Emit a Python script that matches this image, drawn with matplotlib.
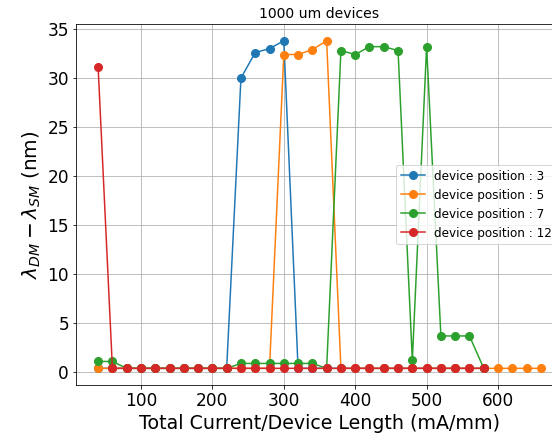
import numpy as np
import matplotlib
matplotlib.use("Agg")
from matplotlib import pyplot as plt

# current density (mA/mm)
x_long = [40, 60, 80, 100, 120, 140, 160, 180, 200, 220, 240, 260, 280, 300, 320, 340,
          360, 380, 400, 420, 440, 460, 480, 500, 520, 540, 560, 580, 600, 620, 640, 660]
x_short = x_long[:28]

# wavelength split (nm) per device position
pos3 = [0.4, 0.4, 0.4, 0.4, 0.4, 0.4, 0.4, 0.4, 0.4, 0.4, 30.0, 32.6, 33.0, 33.8,
        0.4, 0.4, 0.4, 0.4, 0.4, 0.4, 0.4, 0.4, 0.4, 0.4, 0.4, 0.4, 0.4, 0.4]
pos5 = [0.4, 0.4, 0.4, 0.4, 0.4, 0.4, 0.4, 0.4, 0.4, 0.4, 0.4, 0.4, 0.4, 32.4, 32.4, 32.9,
        33.8, 0.4, 0.4, 0.4, 0.4, 0.4, 0.4, 0.4, 0.4, 0.4, 0.4, 0.4, 0.4, 0.4, 0.4, 0.4]
pos7 = [1.1, 1.1, 0.4, 0.4, 0.4, 0.4, 0.4, 0.4, 0.4, 0.4, 0.9, 0.9, 0.9, 0.9,
        0.9, 0.9, 0.4, 32.8, 32.4, 33.2, 33.2, 32.8, 1.2, 33.2, 3.7, 3.7, 3.7, 0.4]
pos12 = [31.1, 0.4, 0.4, 0.4, 0.4, 0.4, 0.4, 0.4, 0.4, 0.4, 0.4, 0.4, 0.4, 0.4,
         0.4, 0.4, 0.4, 0.4, 0.4, 0.4, 0.4, 0.4, 0.4, 0.4, 0.4, 0.4, 0.4, 0.4]

fig = plt.figure(figsize=(552 / 72, 443 / 72), dpi=72)
ax = fig.add_axes([76 / 552, 1 - 384.7 / 443, (563 - 76) / 552, (384.7 - 24.4) / 443])

ax.plot(x_short, pos3, 'o-', markersize=8, label="device position : 3")
ax.plot(x_long, pos5, 'o-', markersize=8, label="device position : 5")
ax.plot(x_short, pos7, 'o-', markersize=8, label="device position : 7")
ax.plot(x_short, pos12, 'o-', markersize=8, label="device position : 12")

ax.grid(True)
ax.set_title("1000 um devices", fontsize=14)
ax.set_xlabel("Total Current/Device Length (mA/mm)", fontsize=19)
ax.set_ylabel(r"$\lambda_{DM} - \lambda_{SM}$ (nm)", fontsize=20)
ax.tick_params(labelsize=17)
ax.legend(loc="center right", fontsize=12)

fig.savefig("out.png", dpi=72)
